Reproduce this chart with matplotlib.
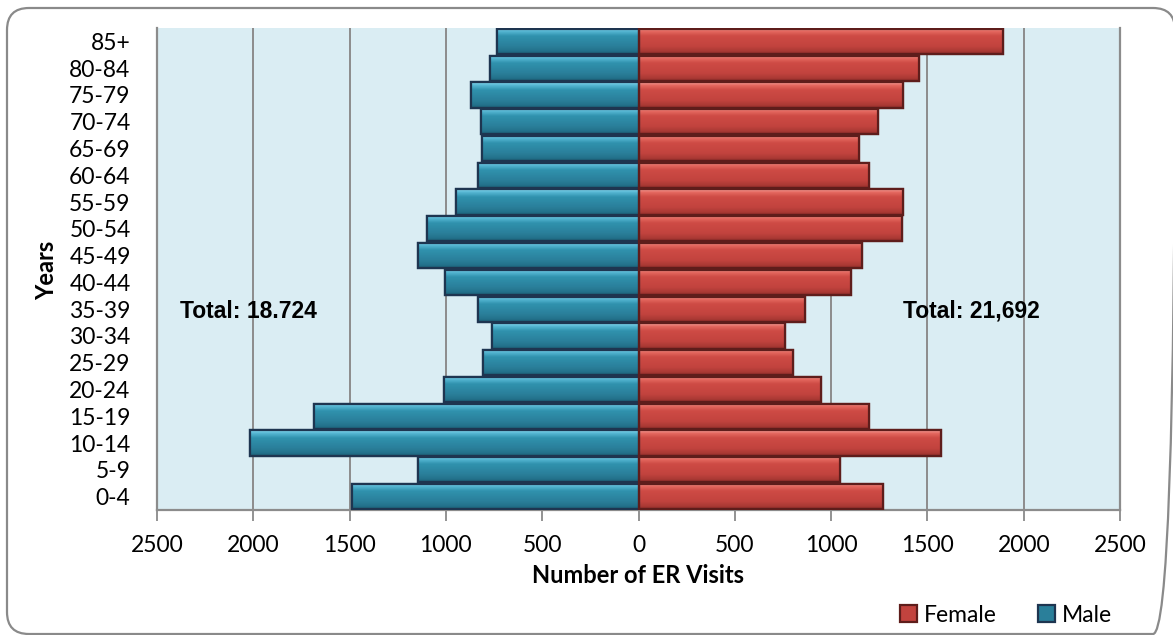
import numpy as np
import matplotlib
matplotlib.use("Agg")
import matplotlib.pyplot as plt
from matplotlib.patches import FancyBboxPatch, Rectangle
from matplotlib.colors import LinearSegmentedColormap

# Age groups, youngest first (bottom of the pyramid)
age_groups = ["0-4", "5-9", "10-14", "15-19", "20-24", "25-29", "30-34", "35-39",
              "40-44", "45-49", "50-54", "55-59", "60-64", "65-69", "70-74",
              "75-79", "80-84", "85+"]

# ER visits by age group
male_visits = [1488, 1145, 2018, 1684, 1009, 805, 761, 834, 1005, 1145, 1099,
               947, 831, 815, 817, 870, 770, 735]
female_visits = [1267, 1044, 1570, 1199, 945, 800, 763, 867, 1101, 1163, 1367,
                 1373, 1196, 1144, 1246, 1373, 1456, 1892]

x_ticks = [-2500, -2000, -1500, -1000, -500, 0, 500, 1000, 1500, 2000, 2500]
x_tick_labels = ["2500", "2000", "1500", "1000", "500", "0", "500", "1000",
                 "1500", "2000", "2500"]

male_total_label = "Total: 18.724"
female_total_label = "Total: 21,692"

W, H = 1173, 635
fig = plt.figure(figsize=(W / 100, H / 100), dpi=100)
fig.patch.set_facecolor("white")

# rounded outer frame, laid out in pixel units on a background axes
bg = fig.add_axes([0, 0, 1, 1])
bg.set_xlim(0, W)
bg.set_ylim(H, 0)
bg.axis("off")
bg.add_patch(FancyBboxPatch((7, 8), 1175 - 7, 634 - 8,
                            boxstyle="round,pad=0,rounding_size=22",
                            facecolor="none", edgecolor="#8a8a8a",
                            linewidth=1.6, clip_on=False))

ax = fig.add_axes([157 / W, 1 - 510 / H, (1120 - 157) / W, (510 - 28) / H])
ax.set_facecolor("#daedf3")

tick_font = "Lato"

ax.set_xlim(-2500, 2500)
ax.set_ylim(-0.5, len(age_groups) - 0.5)
ax.set_xticks(x_ticks)
ax.set_xticklabels(x_tick_labels, fontsize=16.5, family=tick_font)
ax.set_yticks(range(len(age_groups)))
ax.set_yticklabels(age_groups, fontsize=16.5, family=tick_font)
ax.tick_params(axis="y", length=0, pad=19)
ax.tick_params(axis="x", length=8, width=1.3, color="#8a8a8a", pad=10)

ax.grid(axis="x", color="#8c8c8c", linewidth=1.4, zorder=0)
ax.set_axisbelow(True)
for side in ["left", "right", "top", "bottom"]:
    ax.spines[side].set_color("#8c8c8c")
    ax.spines[side].set_linewidth(1.6)
ax.spines["top"].set_visible(False)

# vertical bevel gradients for the bars (row 0 = top edge)
blue_cmap = LinearSegmentedColormap.from_list(
    "blue_bevel", [(0.0, "#86d8ee"), (0.12, "#55b6d2"), (0.3, "#3092ae"),
                   (0.7, "#2a7f9a"), (0.9, "#23718a"), (1.0, "#1a5a70")])
red_cmap = LinearSegmentedColormap.from_list(
    "red_bevel", [(0.0, "#f7a09a"), (0.12, "#e4685f"), (0.3, "#ce4b45"),
                  (0.7, "#c2433e"), (0.9, "#aa3934"), (1.0, "#8a2a27")])
grad = np.linspace(0, 1, 64).reshape(-1, 1)

bar_h = 0.94
male_bars = ax.barh(range(len(age_groups)), [-v for v in male_visits],
                    height=bar_h, color="#2a7f9a", edgecolor="#1e3550",
                    linewidth=1.6, zorder=3, label="Male")
female_bars = ax.barh(range(len(age_groups)), female_visits,
                      height=bar_h, color="#c2433e", edgecolor="#5e1d1b",
                      linewidth=1.6, zorder=3, label="Female")

for bars, cmap in ((male_bars, blue_cmap), (female_bars, red_cmap)):
    for b in bars:
        x0 = b.get_x()
        x1 = x0 + b.get_width()
        y0 = b.get_y()
        y1 = y0 + b.get_height()
        im = ax.imshow(grad, cmap=cmap, aspect="auto", interpolation="bilinear",
                       extent=(min(x0, x1), max(x0, x1), y0, y1), zorder=3.5,
                       origin="upper")
        im.set_clip_path(b)
        # redraw the outline on top of the gradient
        ax.add_patch(Rectangle((x0, y0), b.get_width(), b.get_height(),
                               facecolor="none", edgecolor=b.get_edgecolor(),
                               linewidth=1.6, zorder=4))

ax.set_xlim(-2500, 2500)
ax.set_ylim(-0.5, len(age_groups) - 0.5)

ax.set_xlabel("Number of ER Visits", fontsize=17, family=tick_font,
              fontweight="bold", labelpad=6)
fig.text(47 / W, 1 - 270 / H, "Years", rotation=90, fontsize=17,
         family=tick_font, fontweight="bold", ha="center", va="center")

ax.text(-2380, 6.93, male_total_label, fontsize=16.5, fontweight="bold",
        family="Liberation Sans", ha="left", va="center", zorder=5)
ax.text(1374, 6.95, female_total_label, fontsize=16.5, fontweight="bold",
        family="Liberation Sans", ha="left", va="center", zorder=5)

leg = fig.legend(handles=[female_bars, male_bars], labels=["Female", "Male"],
                 loc="center", bbox_to_anchor=(1006 / W, 1 - 615 / H), ncol=2,
                 frameon=False, prop={"family": tick_font, "size": 16.5},
                 handlelength=0.75, handleheight=0.75, handletextpad=0.3,
                 columnspacing=1.8)

fig.savefig("out.png", dpi=100)
